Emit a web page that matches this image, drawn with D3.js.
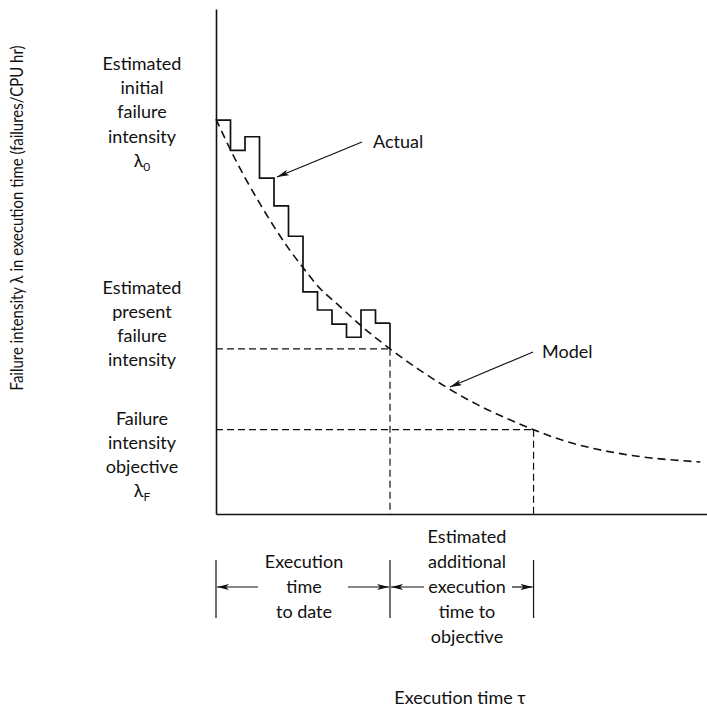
<!DOCTYPE html>
<html>
<head>
<meta charset="utf-8">
<script src="https://cdn.jsdelivr.net/npm/d3@7"></script>
<style>
  body { margin: 0; background: #fff; }
  svg text { font-family: Lato, "Open Sans", sans-serif; font-size: 18px; fill: #111; }
</style>
</head>
<body>
<svg id="chart"></svg>
<script>
var actualTimes = [0, 1, 2, 3, 4, 5, 6, 7, 8, 9, 10, 11, 12]
var actualLambda = [78, 72, 74.7, 66.5, 61, 55, 44, 40.4, 37.6, 35, 40.4, 37.8]

// fitted model curve
var modelTimes = [0, 1, 2, 3, 4, 5, 6, 7, 8.5, 10, 12, 14, 16, 18, 20, 21.9, 24, 26, 28, 30, 32, 33.4]
var modelLambda = [78.2, 72.1, 66.6, 61.6, 56.9, 52.6, 48.8, 45.2, 41.2, 37.3, 32.7, 28.6, 24.9, 21.7, 19.0, 16.7, 14.5, 13.0, 11.9, 11.1, 10.6, 10.3]

var presentTime = 12, presentLambda = 32.7
var objectiveTime = 21.9, objectiveLambda = 16.7

var dimensions = ({
    width: 707,
    height: 711,
    margin: { top: 8, bottom: 197, right: -2, left: 216 }
})

var svg = d3.select("#chart")
            .attr("width", dimensions.width)
            .attr("height", dimensions.height)

var xScale = d3.scaleLinear()
               .domain([0, 34])
               .range([dimensions.margin.left, dimensions.width - dimensions.margin.right])

var yScale = d3.scaleLinear()
               .domain([0, 100])
               .range([dimensions.height - dimensions.margin.bottom, dimensions.margin.top + 1])

var defs = svg.append("defs")
defs.append("marker")
    .attr("id", "head")
    .attr("viewBox", "0 0 12 6")
    .attr("refX", 12).attr("refY", 3)
    .attr("markerWidth", 12).attr("markerHeight", 6)
    .attr("markerUnits", "userSpaceOnUse")
    .attr("orient", "auto")
    .append("path")
    .attr("d", "M0,0 L12,3 L0,6 L3,3 Z")
    .attr("fill", "#111")

// axes (no ticks in the original)
var xAxis = d3.axisBottom(xScale).ticks(0).tickSize(0).tickSizeOuter(0)
var yAxis = d3.axisLeft(yScale).ticks(0).tickSize(0).tickSizeOuter(0)
svg.append("g").attr("transform", "translate(0," + yScale(0) + ")").call(xAxis)
    .select(".domain").attr("stroke", "#111").attr("stroke-width", 1.6)
svg.append("g").attr("transform", "translate(" + xScale(0) + ",0)").call(yAxis)
    .select(".domain").attr("stroke", "#111").attr("stroke-width", 1.6)
svg.selectAll(".tick").remove()

// dashed reference lines
var refs = [
    [[0, presentLambda], [presentTime, presentLambda]],
    [[presentTime, presentLambda], [presentTime, 0]],
    [[0, objectiveLambda], [objectiveTime, objectiveLambda]],
    [[objectiveTime, objectiveLambda], [objectiveTime, 0]]
]
var refLine = d3.line().x(d => xScale(d[0])).y(d => yScale(d[1]))
svg.append("g").selectAll("path")
    .data(refs)
    .enter()
    .append("path")
    .attr("d", refLine)
    .attr("fill", "none")
    .attr("stroke", "#111")
    .attr("stroke-width", 1.2)
    .attr("stroke-dasharray", "7,4")

// model curve
var modelData = modelTimes.map((t, i) => ({ t: t, v: modelLambda[i] }))
svg.append("path")
    .datum(modelData)
    .attr("d", d3.line().x(d => xScale(d.t)).y(d => yScale(d.v)).curve(d3.curveMonotoneX))
    .attr("fill", "none")
    .attr("stroke", "#111")
    .attr("stroke-width", 1.6)
    .attr("stroke-dasharray", "8,5")

// actual step function
var stepData = actualLambda.map((v, i) => ({ t: actualTimes[i], v: v }))
stepData.push({ t: actualTimes[actualTimes.length - 1], v: actualLambda[actualLambda.length - 1] })
svg.append("path")
    .datum(stepData)
    .attr("d", d3.line().x(d => xScale(d.t)).y(d => yScale(d.v)).curve(d3.curveStepAfter))
    .attr("fill", "none")
    .attr("stroke", "#111")
    .attr("stroke-width", 1.7)
svg.append("path")
    .attr("d", refLine([[presentTime, actualLambda[actualLambda.length - 1]], [presentTime, presentLambda]]))
    .attr("stroke", "#111")
    .attr("stroke-width", 1.7)

// callouts
function arrow(x1, y1, x2, y2) {
    svg.append("line")
        .attr("x1", x1).attr("y1", y1).attr("x2", x2).attr("y2", y2)
        .attr("stroke", "#111").attr("stroke-width", 1.2)
        .attr("marker-end", "url(#head)")
}
svg.append("text").attr("x", 373).attr("y", 148).text("Actual")
arrow(362, 142, 277, 177)
svg.append("text").attr("x", 542).attr("y", 358).text("Model")
arrow(533, 352, 450, 387)

// left side labels
function block(lines, x, y0, step) {
    var t = svg.append("text").attr("text-anchor", "middle")
    lines.forEach(function (l, i) {
        var ts = t.append("tspan").attr("x", x).attr("y", y0 + i * step)
        if (typeof l === "object") {
            ts.text(l.text)
            ts.append("tspan").attr("dy", 4).style("font-size", "12px").text(l.sub)
        } else {
            ts.text(l)
        }
    })
}
block(["Estimated", "initial", "failure", "intensity", { text: "λ", sub: "0" }], 142, 70, 24.2)
block(["Estimated", "present", "failure", "intensity"], 142, 294, 24)
block(["Failure", "intensity", "objective", { text: "λ", sub: "F" }], 142, 425, 24)

// y axis title
svg.append("text")
    .attr("transform", "translate(23,218) rotate(-90)")
    .attr("text-anchor", "middle")
    .attr("textLength", 345)
    .attr("lengthAdjust", "spacingAndGlyphs")
    .text("Failure intensity λ in execution time (failures/CPU hr)")

// bottom bracket
var bracketTop = 560, bracketBottom = 618, arrowY = 587
;[0, presentTime, objectiveTime].forEach(function (t) {
    svg.append("line")
        .attr("x1", xScale(t)).attr("x2", xScale(t))
        .attr("y1", bracketTop).attr("y2", bracketBottom)
        .attr("stroke", "#111").attr("stroke-width", 1.2)
})
arrow(258, arrowY, xScale(0) + 1, arrowY)
arrow(348, arrowY, xScale(presentTime) - 1, arrowY)
arrow(424, arrowY, xScale(presentTime) + 1, arrowY)
arrow(512, arrowY, xScale(objectiveTime) - 1, arrowY)

block(["Execution", "time", "to date"], 304, 568, 25)
block(["Estimated", "additional", "execution", "time to", "objective"], 467, 543, 25)

svg.append("text")
    .attr("x", 460).attr("y", 704)
    .attr("text-anchor", "middle")
    .text("Execution time τ")
</script>
</body>
</html>
